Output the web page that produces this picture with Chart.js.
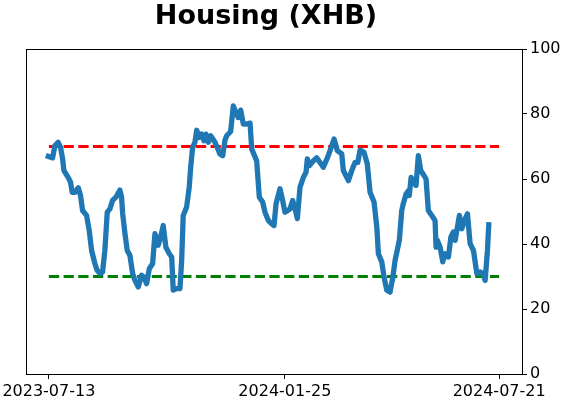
<!DOCTYPE html>
<html>
<head>
<meta charset="utf-8">
<script src="https://cdn.jsdelivr.net/npm/chart.js@4"></script>
<style>
  html, body { margin: 0; padding: 0; background: #fff; }
  #wrap { width: 562px; height: 402px; }
</style>
</head>
<body>
<div id="wrap"><canvas id="c" width="562" height="402"></canvas></div>
<script>
// ---- data (x = days since 2023-07-13) ----
const titleText = 'Housing (XHB)';
const days = [-2.5,3.1,5.0,7.7,9.7,11.4,12.5,16.0,18.0,19.4,21.6,24.4,26.3,28.0,31.3,33.5,35.5,38.2,40.1,42.4,44.6,46.5,48.5,50.7,52.9,55.7,59.0,60.4,61.3,63.2,65.1,67.3,69.6,71.5,74.2,77.0,79.0,81.2,83.4,86.2,88.1,90.8,92.8,95.0,97.2,100.0,102.0,103.3,106.1,108.9,110.3,111.6,114.4,116.6,117.8,119.4,121.3,122.8,124.9,126.9,128.8,130.5,132.4,134.4,138.0,139.9,142.1,144.4,146.3,147.7,151.0,153.2,155.4,157.3,159.3,161.5,164.3,167.1,168.5,172.6,174.8,177.6,179.5,182.3,185.1,187.0,188.7,192.0,194.2,196.1,200.3,202.5,204.5,206.4,208.6,211.4,213.6,214.7,216.3,219.7,222.5,225.2,228.0,232.1,236.9,239.6,243.3,244.6,248.8,251.6,254.3,256.6,258.5,261.8,264.5,266.8,270.1,272.4,273.7,276.5,278.4,280.7,283.4,285.7,287.6,291.1,293.1,294.4,296.7,298.6,299.4,300.9,302.8,305.0,306.9,308.9,311.7,313.3,315.2,318.9,320.8,321.6,322.7,325.0,327.2,329.1,331.9,333.9,336.0,337.5,338.9,341.0,343.0,345.8,347.7,349.9,352.7,355.5,358.3,360.5,362.4,364.3,365.5];
const values = [67.2,66.5,70.2,71.3,69.7,66.2,62.6,60.5,59.0,55.9,55.9,57.3,54.9,50.3,48.8,44.2,38.0,34.0,31.9,30.9,31.4,38.0,49.8,50.8,53.4,54.4,56.6,54.4,49.3,43.2,38.0,36.5,30.9,28.8,26.8,30.4,29.8,27.8,32.4,34.0,43.2,39.6,42.1,45.7,39.0,37.0,36.0,25.8,26.3,26.3,35.0,48.8,51.3,57.5,63.6,69.7,71.3,75.0,72.8,73.8,71.8,73.8,71.3,73.3,71.3,69.7,67.7,67.2,72.0,73.3,74.6,82.5,80.5,78.9,81.2,76.9,76.9,77.2,69.2,65.6,54.4,52.9,49.8,47.2,46.2,45.7,52.4,57.0,53.4,49.8,50.8,53.4,50.8,47.8,57.5,60.5,62.1,66.2,64.1,65.6,66.5,65.1,63.6,67.2,72.3,68.7,67.7,62.6,59.5,62.6,65.1,65.1,68.9,68.2,64.6,55.9,52.9,45.2,37.0,34.5,29.8,25.8,25.2,29.8,35.0,41.1,50.3,52.4,55.4,56.4,54.9,60.5,59.0,58.0,67.2,62.6,61.0,60.0,50.3,48.3,47.2,39.0,41.1,39.0,34.5,37.0,36.0,42.1,43.7,41.1,44.2,48.8,44.7,47.8,49.3,40.1,38.0,30.9,31.4,30.9,28.8,38.0,46.7];
const upperLevel = 70;
const lowerLevel = 30;
const levelSpan = [0, 374];          // days where the reference lines run
const xTickDays = [0, 196, 374];
const xTickLabels = ['2023-07-13', '2024-01-25', '2024-07-21'];
const yTicks = [0, 20, 40, 60, 80, 100];
const xRange = [-19, 393];
const yRange = [0, 100];

const FONT = 'DejaVu Sans';

const lineData = days.map((d, i) => ({ x: d, y: values[i] }));
const upperData = levelSpan.map(d => ({ x: d, y: upperLevel }));
const lowerData = levelSpan.map(d => ({ x: d, y: lowerLevel }));

const framePlugin = {
  id: 'frame',
  afterDraw(chart) {
    const { ctx, chartArea: a } = chart;
    ctx.save();
    ctx.strokeStyle = '#000';
    ctx.lineWidth = 1;
    ctx.strokeRect(Math.round(a.left) + 0.5, Math.round(a.top) + 0.5,
                   Math.round(a.right - a.left), Math.round(a.bottom - a.top));
    // title
    ctx.fillStyle = '#000';
    ctx.font = 'bold 27px "' + FONT + '"';
    ctx.textAlign = 'center';
    ctx.textBaseline = 'alphabetic';
    ctx.fillText(titleText, (a.left + a.right) / 2 - 8, 24);
    ctx.restore();
  }
};

new Chart(document.getElementById('c'), {
  type: 'scatter',
  data: {
    datasets: [
      { data: upperData, showLine: true, borderColor: '#ff0000', borderWidth: 2.8,
        borderDash: [10.3, 4.4], pointRadius: 0, fill: false, order: 2 },
      { data: lowerData, showLine: true, borderColor: '#008000', borderWidth: 2.8,
        borderDash: [10.3, 4.4], pointRadius: 0, fill: false, order: 2 },
      { data: lineData, showLine: true, borderColor: '#1f77b4', borderWidth: 5.3,
        pointRadius: 0, fill: false, tension: 0, borderJoinStyle: 'round',
        borderCapStyle: 'butt', order: 1 }
    ]
  },
  options: {
    responsive: false,
    animation: false,
    devicePixelRatio: 1,
    layout: { padding: { top: 49, left: 26, right: 0, bottom: 0 } },
    plugins: { legend: { display: false }, tooltip: { enabled: false }, title: { display: false } },
    scales: {
      x: {
        type: 'linear', min: xRange[0], max: xRange[1],
        afterBuildTicks(scale) { scale.ticks = xTickDays.map(v => ({ value: v })); },
        afterFit(scale) { scale.height = 28; scale.paddingLeft = 0; scale.paddingRight = 0; },
        ticks: {
          autoSkip: false, maxRotation: 0, padding: 3, color: '#000',
          font: { family: FONT, size: 16 },
          callback(v) { const i = xTickDays.indexOf(v); return i >= 0 ? xTickLabels[i] : ''; }
        },
        grid: { display: true, drawOnChartArea: false, drawTicks: true, tickLength: 5, color: '#000', tickWidth: 1 },
        border: { display: true, color: '#000', width: 1 }
      },
      y: {
        position: 'right', min: yRange[0], max: yRange[1],
        afterBuildTicks(scale) { scale.ticks = yTicks.map(v => ({ value: v })); },
        afterFit(scale) { scale.width = 40; scale.paddingTop = 0; scale.paddingBottom = 0; },
        ticks: { padding: 3, color: '#000', font: { family: FONT, size: 16 } },
        grid: { display: true, drawOnChartArea: false, drawTicks: true, tickLength: 5, color: '#000', tickWidth: 1 },
        border: { display: true, color: '#000', width: 1 }
      }
    }
  },
  plugins: [framePlugin]
});
</script>
</body>
</html>
